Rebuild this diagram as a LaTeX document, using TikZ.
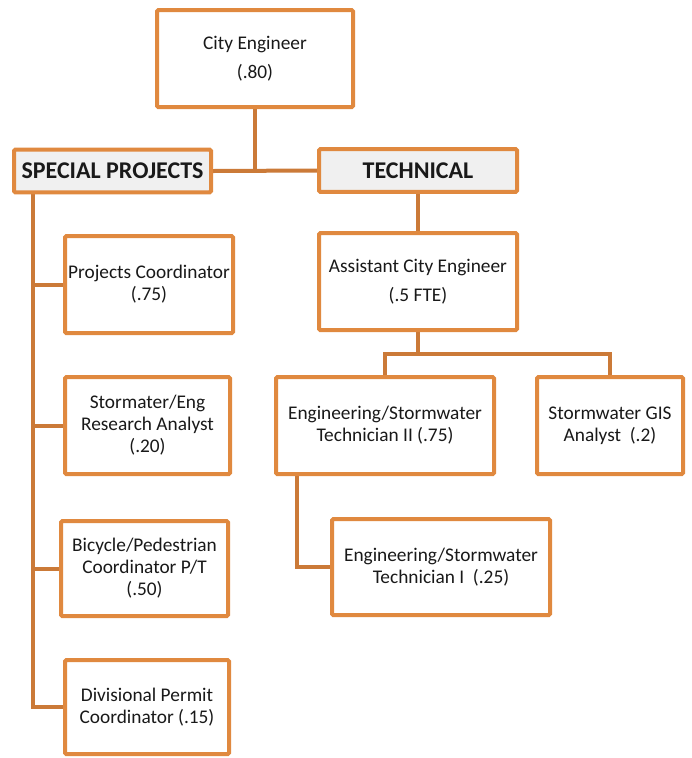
\documentclass[tikz,border=0pt]{standalone}
\usepackage{fontspec}
\setmainfont{Carlito}
\usetikzlibrary{positioning,backgrounds}

\definecolor{boxorange}{HTML}{E0893F}
\definecolor{lineorange}{HTML}{CB7A38}
\definecolor{headgray}{HTML}{F0F0F0}

\tikzset{
  post/.style={draw=boxorange, line width=3pt, rounded corners=1pt, fill=white,
    align=center, inner sep=1pt, font=\fontsize{14.5}{16.5}\selectfont,
    text=black!90, minimum height=72.75pt},
  head/.style={post, fill=headgray, minimum height=32pt,
    font=\fontsize{18}{20}\selectfont\bfseries},
  link/.style={draw=lineorange, line width=3pt},
}

\begin{document}
\begin{tikzpicture}[x=0.75pt,y=-0.75pt]
\useasboundingbox (0,0) rectangle (692,758);

\coordinate (spine) at (33,0);
\coordinate (bus) at (0,354);
\coordinate (leg) at (297,0);

\node[post, minimum width=147pt] (ce) at (255,58.5) {City Engineer\\[5pt](.80)};
\node[head, minimum width=147.75pt] (sp) at (112.5,171) {SPECIAL PROJECTS};
\node[head, minimum width=148.5pt] (tech) at (418,170.5) {TECHNICAL};

\node[post, minimum width=148.5pt] (ace) at (418,281.5) {Assistant City Engineer\\[5pt](.5 FTE)};
\node[post, minimum width=163.5pt] (et2) at (385,425.5) {Engineering/Stormwater\\Technician II (.75)};
\node[post, minimum width=109.5pt] (gis) at (610,425.5) {Stormwater GIS\\Analyst~~(.2)};
\node[post, minimum width=163.5pt, minimum height=72pt] (et1) at (441,567) {Engineering/Stormwater\\Technician I~~(.25)};

\node[post, minimum width=126pt] (pc) at (149,284.5) {Projects Coordinator\\(.75)};
\node[post, minimum width=123.75pt] (sra) at (147.5,425.5) {Stormater/Eng\\Research Analyst\\(.20)};
\node[post, minimum width=125.25pt, minimum height=71.25pt] (bp) at (144.5,568.5) {Bicycle/Pedestrian\\Coordinator P/T\\(.50)};
\node[post, minimum width=123pt, minimum height=70.5pt] (dp) at (147,707) {Divisional Permit\\Coordinator (.15)};

% tree lines behind the boxes
\begin{scope}[on background layer]
\path[link] (ce.south) -- (ce.south |- sp.east);
\path[link] (sp.east) -- (tech.west);
\path[link] (spine |- sp.south) |- (dp.west);
\path[link] (spine |- pc.west) -- (pc.west);
\path[link] (spine |- sra.west) -- (sra.west);
\path[link] (spine |- bp.west) -- (bp.west);

\path[link] (tech.south) -- (ace.north);
\path[link] (ace.south) -- (ace.south |- bus);
\path[link] (et2.north) -- (et2.north |- bus) -- (gis.north |- bus) -- (gis.north);
\path[link] (leg |- et2.south) |- (et1.west);
\end{scope}
\end{tikzpicture}
\end{document}
